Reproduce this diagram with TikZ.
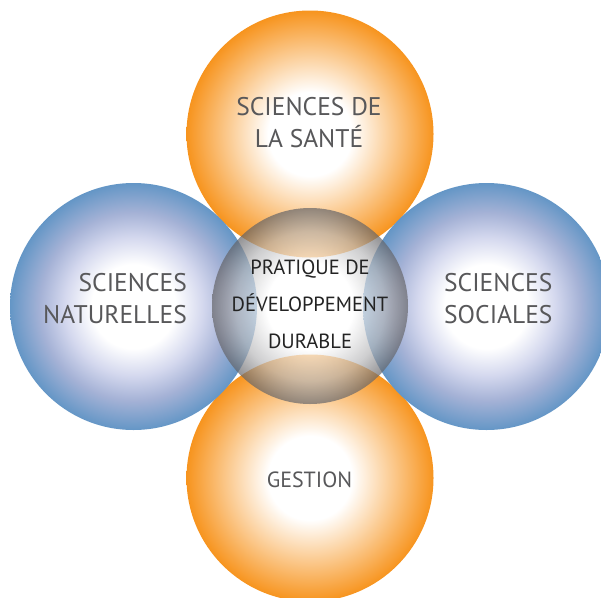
\documentclass[tikz,border=0pt]{standalone}
\usepackage{fontspec}
\setmainfont{PT Sans}
\definecolor{orangeE}{RGB}{247,148,30}
\definecolor{blueE}{RGB}{100,150,198}
\definecolor{blueM}{RGB}{165,178,214}
\definecolor{blueL}{RGB}{212,216,238}
\definecolor{txtgrey}{RGB}{88,88,90}
\definecolor{txtdark}{RGB}{35,35,35}
\definecolor{ringgrey}{RGB}{100,100,104}
\pgfdeclareradialshading{orangeball}{\pgfpointorigin}{color(0bp)=(white); color(8.5bp)=(white); color(25bp)=(orangeE); color(50bp)=(orangeE)}
\pgfdeclareradialshading{blueball}{\pgfpointorigin}{color(0bp)=(white); color(8.5bp)=(white); color(14bp)=(blueL); color(19bp)=(blueM); color(25bp)=(blueE); color(50bp)=(blueE)}
\pgfdeclareradialshading{centerball}{\pgfpointorigin}{color(0bp)=(white); color(11bp)=(white); color(19bp)=(ringgrey!45); color(25bp)=(ringgrey); color(50bp)=(ringgrey)}
\begin{document}
\begin{tikzpicture}[x=1pt,y=-1pt,
  outerlabel/.style={text=txtgrey, font=\fontsize{25.5}{32}\selectfont, inner sep=0pt},
  centerlabel/.style={text=txtdark, font=\fontsize{20.5}{37}\selectfont, inner sep=0pt, align=center}]
\useasboundingbox (0,0) rectangle (601,597);
\clip (0,0) rectangle (601,597);
\shade[shading=orangeball] (310,134) circle[radius=123.5pt];
\shade[shading=orangeball] (310,478) circle[radius=123.5pt];
\shade[shading=blueball] (133.5,306.5) circle[radius=123.5pt];
\shade[shading=blueball] (486.5,306.5) circle[radius=123.5pt];
\shade[shading=centerball, opacity=0.7] (310,306) circle[radius=98pt];
\node[outerlabel, align=center, anchor=base] (sante) at (309,147) {SCIENCES DE\\LA SANTÉ};
\node[outerlabel, align=right, anchor=base east] (nat) at (187,323) {SCIENCES\\NATURELLES};
\node[outerlabel, align=left, anchor=base west] (soc) at (444,323) {SCIENCES\\SOCIALES};
\node[outerlabel, font=\fontsize{22}{26}\selectfont, anchor=base] (gestion) at (309.5,487) {GESTION};
\node[centerlabel, anchor=base] (pdd) at (310,348) {PRATIQUE DE\\DÉVELOPPEMENT\\DURABLE};
\end{tikzpicture}
\end{document}
